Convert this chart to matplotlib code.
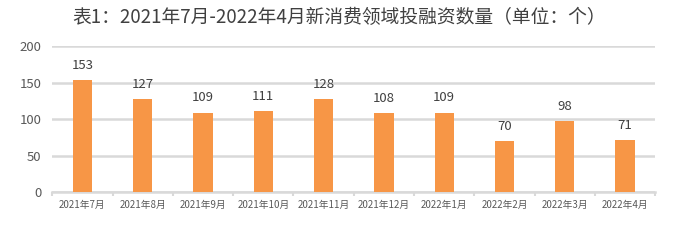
import matplotlib.pyplot as plt
import numpy as np

plt.rcParams['font.family'] = ['Noto Sans CJK SC', 'DejaVu Sans']

months = ['2021年7月', '2021年8月', '2021年9月', '2021年10月', '2021年11月', '2021年12月',
          '2022年1月', '2022年2月', '2022年3月', '2022年4月']
counts = [153, 127, 109, 111, 128, 108, 109, 70, 98, 71]

fig = plt.figure(figsize=(6.79, 2.44), dpi=100)
ax = fig.add_axes([0.077, 0.213, 0.888, 0.598])

x = np.arange(len(months))
ax.bar(x, counts, width=0.32, color='#F79646', zorder=3)
for xi, v in zip(x, counts):
    ax.text(xi, v + 11, str(v), ha='center', va='bottom', fontsize=9.5, color='#404040')

ax.set_xlim(-0.5, len(months) - 0.5)
ax.set_ylim(0, 200)
ax.set_yticks([0, 50, 100, 150, 200])
ax.yaxis.grid(True, color='#D9D9D9', linewidth=1.8, zorder=0)
ax.tick_params(axis='y', length=0, labelsize=9.5, labelcolor='#595959', pad=8)

ax.set_xticks(x)
ax.set_xticklabels(months, fontsize=7, color='#595959')
ax.set_xticks(np.arange(-0.5, len(months), 1), minor=True)
ax.tick_params(axis='x', which='major', length=0, pad=6)
ax.tick_params(axis='x', which='minor', length=3, color='#D9D9D9', width=1.5)

for s in ['top', 'right', 'left']:
    ax.spines[s].set_visible(False)
ax.spines['bottom'].set_color('#D9D9D9')
ax.spines['bottom'].set_linewidth(1.8)

fig.text(0.5, 0.93, '表1：2021年7月-2022年4月新消费领域投融资数量（单位：个）',
         ha='center', va='center', fontsize=13.5, color='#404040')

fig.savefig('out.png', dpi=100)
